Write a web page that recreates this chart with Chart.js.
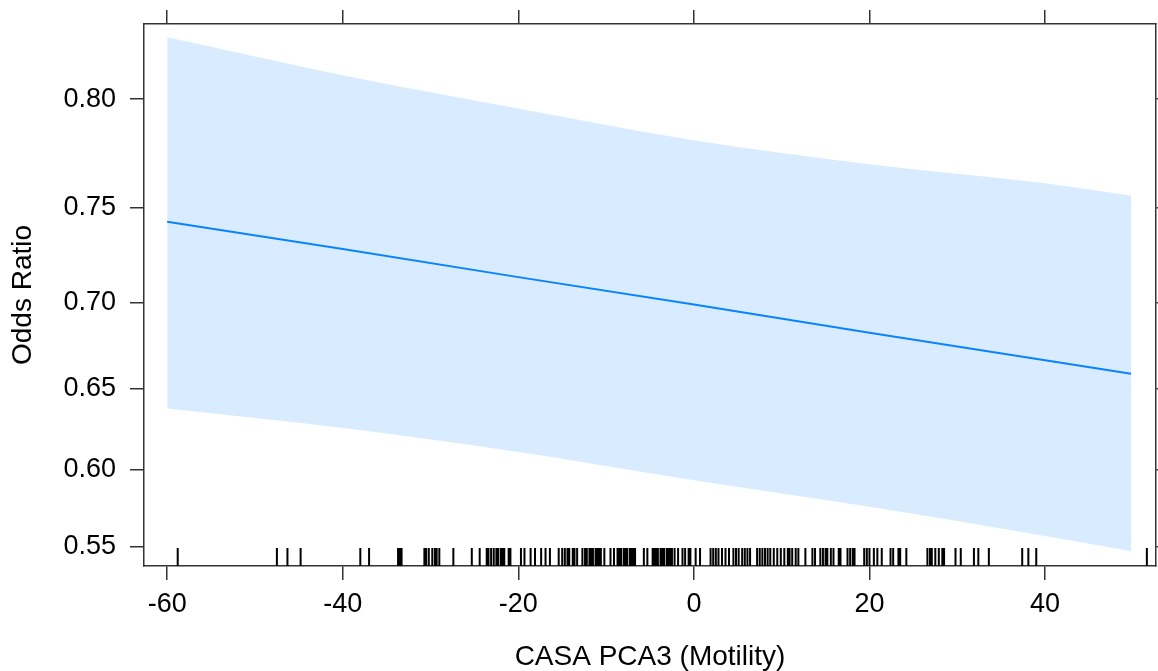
<!DOCTYPE html>
<html>
<head>
<meta charset="utf-8">
<script src="https://cdn.jsdelivr.net/npm/chart.js@4.4.1/dist/chart.umd.min.js"></script>
<style>
  body { margin: 0; background: #fff; }
  #wrap { width: 1158px; height: 671px; }
</style>
</head>
<body>
<div id="wrap"><canvas id="myChart"></canvas></div>
<script>
// effect of CASA PCA3 on the odds ratio
const xs    = [-60, -40, -20, 0, 20, 40, 49.8];
const fit   = [0.743, 0.729, 0.714, 0.699, 0.683, 0.667, 0.659];
const upper = [0.825, 0.810, 0.796, 0.782, 0.771, 0.762, 0.756];
const lower = [0.638, 0.626, 0.611, 0.593, 0.576, 0.557, 0.547];

const xTicks = [-60, -40, -20, 0, 20, 40];
const yTicks = [0.55, 0.60, 0.65, 0.70, 0.75, 0.80];

// rug of observed CASA PCA3 values
const rug = [-58.8, -47.5, -46.3, -44.8, -38.0, -37.0, -33.7, -33.5, -33.3, -30.7, -30.5, -30.2,
  -29.8, -29.5, -29.3, -29.0, -27.4, -25.3, -24.4, -23.6, -23.4, -23.1, -22.8, -22.5, -22.3, -22.0,
  -21.8, -21.6, -21.1, -20.9, -19.7, -19.3, -18.6, -18.1, -17.4, -16.9, -16.4, -15.4, -15.0, -14.7,
  -14.4, -14.2, -13.8, -13.6, -13.3, -12.7, -12.4, -12.2, -11.9, -11.7, -11.5, -11.2, -11.0, -10.8,
  -10.6, -10.2, -9.5, -9.1, -8.7, -8.5, -8.3, -8.0, -7.8, -7.6, -7.3, -7.1, -6.9, -6.7, -5.7, -5.3,
  -4.7, -4.5, -4.3, -4.1, -3.8, -3.6, -3.4, -3.1, -2.9, -2.7, -2.5, -2.2, -1.8, -1.3, -1.0, -0.6,
  -0.4, 0.2, 0.7, 1.9, 2.2, 2.5, 2.8, 3.2, 3.6, 4.0, 4.5, 4.8, 5.1, 5.5, 5.8, 6.1, 6.4, 7.2, 7.5,
  7.8, 8.1, 8.4, 8.7, 9.1, 9.5, 9.9, 10.3, 10.7, 10.9, 11.2, 11.6, 11.9, 12.7, 13.5, 13.8, 14.4,
  14.7, 15.0, 15.2, 15.6, 15.9, 16.5, 16.7, 17.5, 17.8, 18.1, 18.3, 19.4, 19.7, 20.0, 20.5, 20.9,
  21.4, 22.4, 22.7, 23.3, 23.5, 24.2, 26.6, 26.9, 27.1, 27.5, 27.9, 28.3, 28.5, 29.8, 30.4, 31.9,
  32.4, 33.6, 37.4, 38.1, 39.0, 51.6];

// y axis is on the logit scale (like the effects package does)
const logit = p => Math.log(p / (1 - p));
class LogitScale extends Chart.LinearScale {
  configure() {
    super.configure();
    this._lo = logit(this.min);
    this._hi = logit(this.max);
  }
  getPixelForValue(v) {
    return this.getPixelForDecimal((logit(v) - this._lo) / (this._hi - this._lo));
  }
  getValueForPixel(px) {
    const t = this._lo + this.getDecimalForPixel(px) * (this._hi - this._lo);
    return 1 / (1 + Math.exp(-t));
  }
}
LogitScale.id = 'logit';
LogitScale.defaults = Chart.LinearScale.defaults;
Chart.register(LogitScale);

const pts = arr => xs.map((x, i) => ({ x: x, y: arr[i] }));

const rugPlugin = {
  id: 'rug',
  afterDatasetsDraw(chart) {
    const c = chart.ctx, sx = chart.scales.x, b = chart.chartArea.bottom;
    c.save();
    c.strokeStyle = '#000';
    c.lineWidth = 2;
    c.beginPath();
    rug.forEach(v => {
      const px = sx.getPixelForValue(v);
      c.moveTo(px, b);
      c.lineTo(px, b - 18);
    });
    c.stroke();
    c.restore();
  }
};

const font = { family: '"Liberation Sans", Arial, sans-serif', size: 27 };
const axisLine = { display: true, color: '#333', width: 1.5 };
const tickGrid = { drawOnChartArea: false, drawTicks: true, tickLength: 14, color: '#333', lineWidth: 1.5 };
const setX = s => { s.ticks = xTicks.map(v => ({ value: v })); };
const setY = s => { s.ticks = yTicks.map(v => ({ value: v })); };
// fixed box, no extra room for edge labels
const noPad = s => { s.paddingTop = 0; s.paddingBottom = 0; s.paddingLeft = 0; s.paddingRight = 0; };

const ctx = document.getElementById('myChart');
new Chart(ctx, {
  type: 'line',
  data: {
    datasets: [
      { data: pts(lower), borderWidth: 0, pointRadius: 0, fill: false, cubicInterpolationMode: 'monotone' },
      { data: pts(upper), borderWidth: 0, pointRadius: 0, fill: '-1', backgroundColor: 'rgba(0,128,255,0.15)', cubicInterpolationMode: 'monotone' },
      { data: pts(fit), borderColor: '#0a84ff', borderWidth: 2, pointRadius: 0, fill: false, tension: 0 }
    ]
  },
  options: {
    responsive: true,
    maintainAspectRatio: false,
    animation: false,
    layout: { padding: 0 },
    plugins: { legend: { display: false }, tooltip: { enabled: false } },
    scales: {
      x: {
        type: 'linear', position: 'bottom', min: -62.64, max: 52.64, bounds: 'data',
        afterBuildTicks: setX,
        afterFit: s => { s.height = 105; noPad(s); },
        border: axisLine, grid: tickGrid,
        ticks: { font: font, color: '#000', padding: 8, maxRotation: 0, callback: v => v },
        title: { display: true, text: 'CASA PCA3 (Motility)', color: '#000',
          font: { family: font.family, size: 28, lineHeight: 1 }, padding: { top: 0, bottom: 0 } }
      },
      xTop: {
        type: 'linear', position: 'top', min: -62.64, max: 52.64, bounds: 'data',
        afterBuildTicks: setX,
        afterFit: s => { s.height = 24; noPad(s); },
        border: axisLine, grid: tickGrid,
        ticks: { display: false }
      },
      y: {
        type: 'logit', position: 'left', min: 0.5373, max: 0.8300, bounds: 'data',
        afterBuildTicks: setY,
        afterFit: s => { s.width = 144; noPad(s); },
        border: axisLine, grid: tickGrid,
        ticks: { font: font, color: '#000', padding: 14, callback: v => v.toFixed(2) },
        title: { display: true, text: 'Odds Ratio', color: '#000',
          font: { family: font.family, size: 28, lineHeight: 1 }, padding: { top: 9, bottom: 0 } }
      },
      yRight: {
        type: 'logit', position: 'right', min: 0.5373, max: 0.8300, bounds: 'data',
        afterBuildTicks: setY,
        afterFit: s => { s.width = 2; noPad(s); },
        border: axisLine, grid: tickGrid,
        ticks: { display: false }
      }
    }
  },
  plugins: [rugPlugin]
});
</script>
</body>
</html>
